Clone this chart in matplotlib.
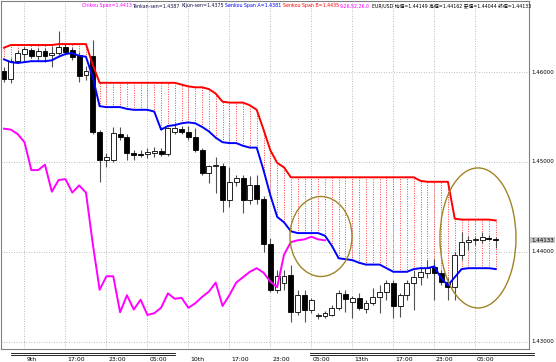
import matplotlib
matplotlib.use("Agg")
import matplotlib.pyplot as plt
import matplotlib.transforms as mtransforms
from matplotlib import font_manager
from matplotlib.lines import Line2D
from matplotlib.patches import Ellipse

# EUR/USD H1 candles (bar index 0..72)
opens = [1.4601, 1.4592, 1.4612, 1.4620, 1.4624, 1.4618, 1.4623, 1.4619, 1.4621, 1.4628,
         1.4624, 1.4619, 1.4597, 1.4618, 1.4533, 1.4502, 1.4502, 1.4531, 1.4528, 1.4510,
         1.4509, 1.4509, 1.4510, 1.4512, 1.4509, 1.4533, 1.4537, 1.4533, 1.4528, 1.4513,
         1.4488, 1.4496, 1.4496, 1.4458, 1.4478, 1.4482, 1.4458, 1.4474, 1.4459, 1.4409,
         1.4358, 1.4366, 1.4374, 1.4333, 1.4352, 1.4336, 1.4329, 1.4329, 1.4330, 1.4338,
         1.4353, 1.4344, 1.4349, 1.4337, 1.4343, 1.4350, 1.4356, 1.4366, 1.4340, 1.4352,
         1.4366, 1.4372, 1.4377, 1.4383, 1.4377, 1.4367, 1.4361, 1.4397, 1.4411, 1.4413,
         1.4413, 1.4416, 1.44149]
highs = [1.4606, 1.4616, 1.4624, 1.4628, 1.4627, 1.4627, 1.4627, 1.4629, 1.4646, 1.4631,
         1.4628, 1.4622, 1.4607, 1.4636, 1.4536, 1.4510, 1.4539, 1.4539, 1.4531, 1.4513,
         1.4513, 1.4516, 1.4517, 1.4516, 1.4539, 1.4543, 1.4540, 1.4540, 1.4538, 1.4516,
         1.4497, 1.4506, 1.4499, 1.4494, 1.4486, 1.4486, 1.4484, 1.4486, 1.4462, 1.4416,
         1.4380, 1.4380, 1.4386, 1.4358, 1.4358, 1.4349, 1.4332, 1.4334, 1.4341, 1.4358,
         1.4358, 1.4351, 1.4354, 1.4347, 1.4360, 1.4363, 1.4369, 1.4369, 1.4354, 1.4369,
         1.4380, 1.4383, 1.4391, 1.4392, 1.4380, 1.4371, 1.4400, 1.4422, 1.4418, 1.4417,
         1.4422, 1.4419, 1.44162]
lows = [1.4589, 1.4588, 1.4610, 1.4611, 1.4616, 1.4613, 1.4611, 1.4606, 1.4619, 1.4619,
        1.4613, 1.4589, 1.4591, 1.4531, 1.4478, 1.4494, 1.4500, 1.4524, 1.4502, 1.4502,
        1.4506, 1.4504, 1.4506, 1.4507, 1.4507, 1.4531, 1.4531, 1.4524, 1.4511, 1.4486,
        1.4477, 1.4466, 1.4444, 1.4450, 1.4473, 1.4443, 1.4453, 1.4453, 1.4400, 1.4356,
        1.4354, 1.4358, 1.4322, 1.4330, 1.4322, 1.4332, 1.4326, 1.4327, 1.4329, 1.4336,
        1.4333, 1.4327, 1.4336, 1.4332, 1.4341, 1.4332, 1.4347, 1.4327, 1.4328, 1.4347,
        1.4336, 1.4363, 1.4371, 1.4347, 1.4363, 1.4347, 1.4347, 1.4391, 1.4402, 1.4408,
        1.4410, 1.4413, 1.44044]
closes = [1.4592, 1.4612, 1.4621, 1.4626, 1.4618, 1.4623, 1.4618, 1.4621, 1.4628, 1.4622,
          1.4617, 1.4596, 1.4601, 1.4533, 1.4502, 1.4506, 1.4532, 1.4528, 1.4510, 1.4508,
          1.4508, 1.4511, 1.4512, 1.4509, 1.4538, 1.4538, 1.4533, 1.4528, 1.4513, 1.4488,
          1.4496, 1.4497, 1.4458, 1.4478, 1.4482, 1.4458, 1.4474, 1.4459, 1.4409, 1.4358,
          1.4373, 1.4373, 1.4333, 1.4352, 1.4336, 1.4347, 1.4330, 1.4332, 1.4338, 1.4354,
          1.4348, 1.4349, 1.4338, 1.4343, 1.4350, 1.4356, 1.4366, 1.4340, 1.4352, 1.4366,
          1.4372, 1.4378, 1.4382, 1.4377, 1.4367, 1.4361, 1.4397, 1.4411, 1.4413, 1.4414,
          1.4417, 1.4414, 1.44133]

senkou_a = [1.4614, 1.4611, 1.4610, 1.4611, 1.4612, 1.4612, 1.4612, 1.4613, 1.4617, 1.4620,
            1.4621, 1.4618, 1.4617, 1.4594, 1.4562, 1.4561, 1.4561, 1.4561, 1.4559, 1.4558,
            1.4558, 1.4558, 1.4556, 1.4536, 1.4540, 1.4541, 1.4543, 1.4544, 1.4543, 1.4539,
            1.4534, 1.4527, 1.4522, 1.4521, 1.4521, 1.4518, 1.4516, 1.4516, 1.4491, 1.4463,
            1.4439, 1.4433, 1.4423, 1.4421, 1.4421, 1.4421, 1.4421, 1.4418, 1.4407, 1.4393,
            1.4392, 1.4391, 1.4388, 1.4386, 1.4386, 1.4386, 1.4382, 1.4378, 1.4378, 1.4378,
            1.4381, 1.4382, 1.4382, 1.4384, 1.4371, 1.4363, 1.4372, 1.4381, 1.4382, 1.4382,
            1.4382, 1.4382, 1.4381]
senkou_b = [1.4627, 1.4630, 1.4630, 1.4630, 1.4630, 1.4630, 1.4630, 1.4630, 1.4631, 1.4631,
            1.4631, 1.4631, 1.4631, 1.4608, 1.4588, 1.4588, 1.4588, 1.4588, 1.4588, 1.4588,
            1.4588, 1.4588, 1.4588, 1.4588, 1.4588, 1.4588, 1.4586, 1.4584, 1.4583, 1.4583,
            1.4581, 1.4576, 1.4567, 1.4566, 1.4566, 1.4566, 1.4563, 1.4558, 1.4536, 1.4513,
            1.4499, 1.4494, 1.4483, 1.4483, 1.4483, 1.4483, 1.4483, 1.4483, 1.4483, 1.4483,
            1.4483, 1.4483, 1.4483, 1.4483, 1.4483, 1.4483, 1.4483, 1.4483, 1.4483, 1.4483,
            1.4483, 1.4479, 1.4478, 1.4478, 1.4478, 1.4478, 1.4437, 1.4436, 1.4436, 1.4436,
            1.4436, 1.4436, 1.4435]
chikou = [1.4537, 1.4536, 1.4531, 1.4522, 1.4491, 1.4491, 1.4497, 1.4467, 1.4480, 1.4481,
          1.4466, 1.4474, 1.4466, 1.4409, 1.4358, 1.4373, 1.4373, 1.4333, 1.4352, 1.4336,
          1.4347, 1.4330, 1.4332, 1.4338, 1.4354, 1.4348, 1.4349, 1.4338, 1.4343, 1.4350,
          1.4356, 1.4366, 1.4340, 1.4352, 1.4366, 1.4372, 1.4378, 1.4382, 1.4377, 1.4367,
          1.4361, 1.4397, 1.4411, 1.4413, 1.4414, 1.4417, 1.4414, 1.4413]

time_labels = ["9th", "17:00", "23:00", "05:00", "10th", "17:00", "23:00", "05:00",
               "13th", "17:00", "23:00", "05:00"]
time_label_bars = [3, 9, 15, 21, 27, 33, 39, 45, 51, 57, 63, 69]
price_ticks = [1.43, 1.44, 1.45, 1.46]
last_price = 1.44133

header = [
    ("Chikou Span=1.4413", "#ff00ff"),
    ("Tenkan-sen=1.4387", "#101040"),
    ("Kijun-sen=1.4375", "#101040"),
    ("Senkou Span A=1.4381", "#0000ff"),
    ("Senkou Span B=1.4435", "#ff0000"),
    ("9,26,52,26,0", "#ff00ff"),
    ("EUR/USD 始値=1.44149 高値=1.44162 安値=1.44044 終値=1.44133", "#000000"),
]
HEADER_LEFT, HEADER_RIGHT = 82, 530

names = {f.name for f in font_manager.fontManager.ttflist}
if "Liberation Sans Narrow" in names:
    FAM = ["Liberation Sans Narrow", "Noto Sans CJK JP"]
    FS = 5.0
else:
    FAM = ["DejaVu Sans", "Noto Sans CJK JP"]
    FS = 4.0

W, H = 556, 362
fig = plt.figure(figsize=(W / 100, H / 100), dpi=100)
ax = fig.add_axes([1 / W, (H - 349) / H, 528 / W, 348 / H])
ax.set_xlim(-0.44, 76.87)
ax.set_ylim(1.42922, 1.46789)
for s in ax.spines.values():
    s.set_color("#808080")
    s.set_linewidth(0.8)
ax.set_xticks([])
ax.set_yticks([])

grid_style = dict(color="#a0acb4", lw=0.6, linestyle=(0, (1, 2)), zorder=0)
for b in time_label_bars:
    ax.axvline(b, **grid_style)
for p in price_ticks:
    ax.axhline(p, **grid_style)

n = len(closes)
idx = list(range(n))

# cloud hatching
ax.vlines(idx, senkou_a, senkou_b, colors="#ff4040", linestyles=(0, (1, 1.5)), lw=0.7, zorder=1)
ax.plot(idx, senkou_b, color="#ff0000", lw=1.4, zorder=4)
ax.plot(idx, senkou_a, color="#0000ff", lw=1.4, zorder=4)
ax.plot(range(len(chikou)), chikou, color="#ff00ff", lw=1.4, zorder=4)

# candles
ax.vlines(idx, lows, highs, colors="#505050", lw=0.8, zorder=2)
for i in idx:
    o, c = opens[i], closes[i]
    up = c >= o
    ax.bar(i, abs(c - o), bottom=min(o, c), width=0.72,
           color="white" if up else "black", edgecolor="black", lw=0.6, zorder=3)

# highlight ellipses
ax.add_patch(Ellipse((46.41, 1.44172), 9.08, 0.00889, fill=False, ec="#a08428", lw=1.0, zorder=5))
ax.add_patch(Ellipse((69.4, 1.44156), 11.13, 0.01556, fill=False, ec="#a08428", lw=1.0, zorder=5))

# price labels on right
ytr = mtransforms.blended_transform_factory(ax.transAxes, ax.transData)
for p in price_ticks:
    ax.text(1.004, p, f"{p:.5f}", transform=ytr, ha="left", va="center",
            fontsize=FS, family=FAM, color="black", clip_on=False)
ax.text(1.004, last_price, f"{last_price:.5f}", transform=ytr, ha="left", va="center",
        fontsize=FS, family=FAM, color="black", clip_on=False,
        bbox=dict(boxstyle="square,pad=0.15", fc="#c4c4c4", ec="none"))

# time labels
xtr = mtransforms.blended_transform_factory(ax.transData, ax.transAxes)
for b, lab in zip(time_label_bars, time_labels):
    ax.text(b + 0.25, -0.03, lab, transform=xtr, ha="left", va="center",
            fontsize=FS + 0.4, family=FAM, color="black", clip_on=False)

# separator lines under the axis
for x0, x1 in [(11, 175), (310, 534)]:
    for yy in (352.5, 354.5):
        fig.add_artist(Line2D([x0 / W, x1 / W], [1 - yy / H, 1 - yy / H],
                              transform=fig.transFigure, color="black", lw=0.6))

# header: pieces flow one after another at one common size fitted to the width
renderer = fig.canvas.get_renderer()
texts = [fig.text(0, 1 - 6 / H, txt, ha="left", va="center", fontsize=FS,
                  family=FAM, color=col) for txt, col in header]
gap = 1.5
widths = [t.get_window_extent(renderer).width for t in texts]
scale = min(1.0, (HEADER_RIGHT - HEADER_LEFT - gap * (len(texts) - 1)) / sum(widths))
xpos = HEADER_LEFT
for t, w in zip(texts, widths):
    t.set_fontsize(FS * scale)
    t.set_x(xpos / W)
    xpos += w * scale + gap

fig.savefig("out.png", dpi=100)
